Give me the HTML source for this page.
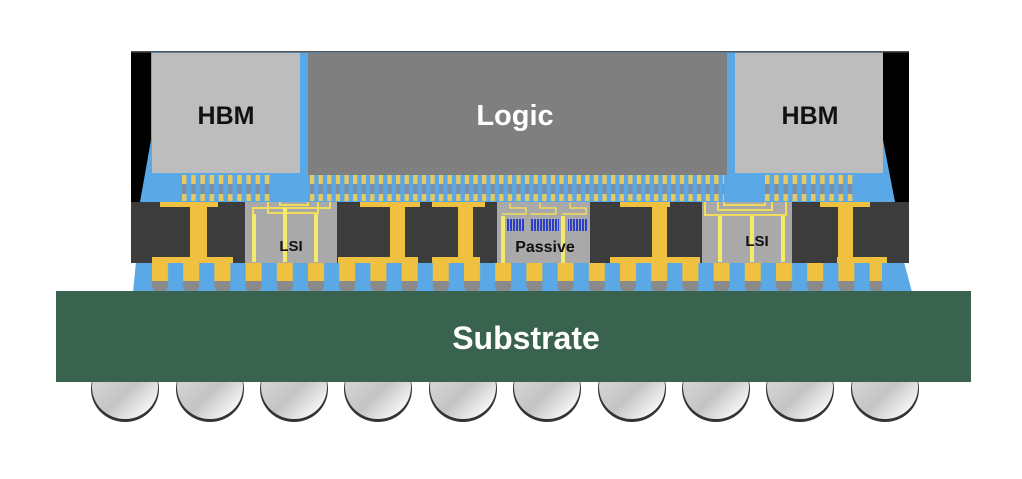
<!DOCTYPE html>
<html><head><meta charset="utf-8"><style>
html,body{margin:0;padding:0;background:#fff;width:1022px;height:479px;overflow:hidden}
svg{display:block}
text{font-family:"Liberation Sans",Arial,sans-serif;font-weight:bold}
</style></head><body>
<svg width="1022" height="479" viewBox="0 0 1022 479" xmlns="http://www.w3.org/2000/svg">
<defs>
<pattern id="mb" x="182" y="0" width="9.2" height="479" patternUnits="userSpaceOnUse">
<rect x="0" y="175" width="4.5" height="9" fill="#e8c860"/>
<rect x="0" y="184" width="4.5" height="10" fill="#7f8fa3"/>
<rect x="0" y="194" width="4.5" height="7" fill="#e8c860"/>
</pattern>
<pattern id="mb2" x="310" y="0" width="8.6" height="479" patternUnits="userSpaceOnUse">
<rect x="0" y="175" width="4.3" height="9" fill="#e8c860"/>
<rect x="0" y="184" width="4.3" height="10" fill="#7f8fa3"/>
<rect x="0" y="194" width="4.3" height="7" fill="#e8c860"/>
</pattern>
<pattern id="mb3" x="765" y="0" width="9.2" height="479" patternUnits="userSpaceOnUse">
<rect x="0" y="175" width="4.5" height="9" fill="#e8c860"/>
<rect x="0" y="184" width="4.5" height="10" fill="#7f8fa3"/>
<rect x="0" y="194" width="4.5" height="7" fill="#e8c860"/>
</pattern>
<pattern id="bb" x="152" y="0" width="31.2" height="479" patternUnits="userSpaceOnUse">
<rect x="0" y="263" width="16" height="18" fill="#f0c040"/>
<path d="M0 281 H16 V286 Q16 292 8 292 Q0 292 0 286 Z" fill="#8a8a8a"/>
</pattern>
<linearGradient id="bg" x1="0" y1="0" x2="1" y2="1">
<stop offset="0" stop-color="#e0e0e0"/><stop offset="0.55" stop-color="#c4c4c4"/><stop offset="0.85" stop-color="#f4f4f4"/><stop offset="1" stop-color="#444"/>
</linearGradient>
<pattern id="blu" x="0" y="0" width="3" height="10" patternUnits="userSpaceOnUse">
<rect x="0" y="0" width="2" height="10" fill="#2a3ec8"/>
</pattern>
</defs>

<g>
<ellipse cx="125" cy="389" rx="34" ry="33" fill="#333"/><ellipse cx="125" cy="387" rx="33" ry="32" fill="url(#bg)"/>
<ellipse cx="210" cy="389" rx="34" ry="33" fill="#333"/><ellipse cx="210" cy="387" rx="33" ry="32" fill="url(#bg)"/>
<ellipse cx="294" cy="389" rx="34" ry="33" fill="#333"/><ellipse cx="294" cy="387" rx="33" ry="32" fill="url(#bg)"/>
<ellipse cx="378" cy="389" rx="34" ry="33" fill="#333"/><ellipse cx="378" cy="387" rx="33" ry="32" fill="url(#bg)"/>
<ellipse cx="463" cy="389" rx="34" ry="33" fill="#333"/><ellipse cx="463" cy="387" rx="33" ry="32" fill="url(#bg)"/>
<ellipse cx="547" cy="389" rx="34" ry="33" fill="#333"/><ellipse cx="547" cy="387" rx="33" ry="32" fill="url(#bg)"/>
<ellipse cx="632" cy="389" rx="34" ry="33" fill="#333"/><ellipse cx="632" cy="387" rx="33" ry="32" fill="url(#bg)"/>
<ellipse cx="716" cy="389" rx="34" ry="33" fill="#333"/><ellipse cx="716" cy="387" rx="33" ry="32" fill="url(#bg)"/>
<ellipse cx="800" cy="389" rx="34" ry="33" fill="#333"/><ellipse cx="800" cy="387" rx="33" ry="32" fill="url(#bg)"/>
<ellipse cx="885" cy="389" rx="34" ry="33" fill="#333"/><ellipse cx="885" cy="387" rx="33" ry="32" fill="url(#bg)"/>
</g>

<polygon points="136,262 904,262 912,292 133,292" fill="#5aa9e6"/>
<rect x="152" y="262" width="730" height="31" fill="url(#bb)"/>

<rect x="56" y="291" width="915" height="91" fill="#3a634f"/>
<text x="526" y="349" font-size="32" fill="#fff" text-anchor="middle">Substrate</text>

<rect x="131" y="51" width="778" height="152" fill="#000"/>
<polygon points="151,140 151,52 883,52 883,140 895,202 140,202" fill="#5aa9e6"/>
<rect x="131" y="51" width="778" height="1.5" fill="#555"/>
<rect x="152" y="53" width="148" height="120" fill="#bdbdbd"/>
<rect x="308" y="53" width="419" height="122" fill="#7f7f7f"/>
<rect x="735" y="53" width="148" height="120" fill="#bdbdbd"/>
<text x="226" y="124" font-size="25" fill="#111" text-anchor="middle">HBM</text>
<text x="515" y="125" font-size="29" fill="#fff" text-anchor="middle">Logic</text>
<text x="810" y="124" font-size="25" fill="#111" text-anchor="middle">HBM</text>

<rect x="182" y="170" width="90" height="35" fill="url(#mb)"/>
<rect x="310" y="170" width="414" height="35" fill="url(#mb2)"/>
<rect x="765" y="170" width="92" height="35" fill="url(#mb3)"/>

<rect x="131" y="202" width="778" height="61" fill="#3c3c3c"/>
<rect x="245" y="202" width="92" height="61" fill="#a9a9a9"/>
<g fill="none" stroke="#f2dc5c" stroke-width="2">
<path d="M253 262 V208 H330 V202"/>
<path d="M268 202 V213 H318 V202"/>
<path d="M280 202 V205 H308 V202"/>
</g>
<g fill="#f6ea6a"><rect x="252" y="214" width="4" height="48"/><rect x="283" y="208" width="4" height="54"/><rect x="314" y="214" width="4" height="48"/></g>
<text x="291" y="251" font-size="15" fill="#111" text-anchor="middle">LSI</text>
<rect x="497" y="202" width="93" height="61" fill="#a9a9a9"/>
<g fill="none" stroke="#f2dc5c" stroke-width="1.5">
<path d="M502 214 H526 V208 H510 V203"/>
<path d="M530 214 H556 V208 H540 V203"/>
<path d="M562 214 H586 V208 H570 V203"/>
</g>
<rect x="507" y="219" width="18" height="12" fill="url(#blu)"/>
<rect x="530" y="219" width="29" height="12" fill="url(#blu)"/>
<rect x="568" y="219" width="20" height="12" fill="url(#blu)"/>
<g fill="#f6ea6a"><rect x="501" y="216" width="4" height="47"/><rect x="561" y="216" width="4" height="47"/></g>
<text x="545" y="252" font-size="16" fill="#111" text-anchor="middle">Passive</text>
<rect x="702" y="202" width="90" height="61" fill="#a9a9a9"/>
<g fill="none" stroke="#f2dc5c" stroke-width="2">
<path d="M705 202 V215 H786 V202"/>
<path d="M718 202 V210 H772 V202"/>
<path d="M724 202 V205 H765 V202"/>
</g>
<g fill="#f6ea6a"><rect x="718" y="216" width="4" height="46"/><rect x="750" y="216" width="4" height="46"/><rect x="781" y="216" width="4" height="46"/></g>
<text x="757" y="246" font-size="15" fill="#111" text-anchor="middle">LSI</text>

<g fill="#f0c040">
<rect x="160" y="202" width="58" height="5"/><rect x="190" y="202" width="17" height="60"/><rect x="152" y="257" width="81" height="6"/>
<rect x="360" y="202" width="60" height="5"/><rect x="390" y="202" width="15" height="60"/><rect x="338" y="257" width="80" height="6"/>
<rect x="432" y="202" width="53" height="5"/><rect x="458" y="202" width="15" height="60"/><rect x="432" y="257" width="48" height="6"/>
<rect x="620" y="202" width="50" height="5"/><rect x="652" y="202" width="15" height="60"/><rect x="610" y="257" width="90" height="6"/>
<rect x="820" y="202" width="50" height="5"/><rect x="838" y="202" width="15" height="60"/><rect x="837" y="257" width="50" height="6"/>
</g>
</svg>
</body></html>
